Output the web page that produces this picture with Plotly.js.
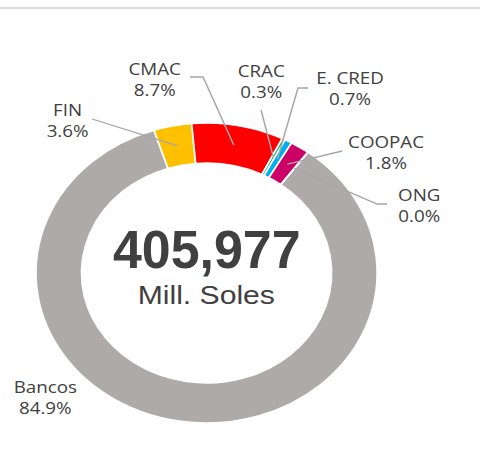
<!DOCTYPE html>
<html>
<head>
<meta charset="utf-8">
<script src="https://cdn.plot.ly/plotly-3.0.1.min.js"></script>
<style>
  body { margin: 0; background: #fff; overflow: hidden; }
  /* the source chart is an Excel donut stretched sideways, so stretch the whole plot */
  #chart { width: 422px; height: 453px; transform: scaleX(1.1374); transform-origin: 0 0; }
</style>
</head>
<body>
<div id="chart"></div>
<script>
var labels = ['Bancos', 'FIN', 'CMAC', 'CRAC', 'E. CRED', 'COOPAC', 'ONG'];
var shares = [84.9, 3.6, 8.7, 0.3, 0.7, 1.8, 0.0];
var totalText = '405,977';
var unitText = 'Mill. Soles';

var colors = ['#AEAAAA', '#FFC000', '#FF0000', '#00B050', '#00B0F0', '#CC0066', '#7030A0'];
// label centres in px, before the stretch
var labelPos = [[40, 397], [59, 120], [136, 79], [229, 81], [308, 88], [339, 152], [368, 205]];
// start (and elbow) of each leader line, in px; the end is the slice middle
var leaderPts = [null, [[81, 119]], [[167, 77], [178.5, 77]], [[229.5, 110]],
                 [[271, 88], [262, 88]], [[300.8, 151]], [[340.4, 204], [331.6, 204]]];

var W = 422, H = 453;
var dom = { x: [0.0749, 0.7858], y: [0.0662, 0.7285] };
var hole = 0.733;
var rotation = 36.4;

function plotDonut(containerId) {
    var cx = (dom.x[0] + dom.x[1]) / 2 * W;
    var cy = (1 - (dom.y[0] + dom.y[1]) / 2) * H;
    var r = Math.min((dom.x[1] - dom.x[0]) * W, (dom.y[1] - dom.y[0]) * H) / 2;
    var rm = r * (1 + hole) / 2;
    var sum = shares.reduce((a, b) => a + b, 0);

    var labelFont = { family: 'Open Sans, sans-serif', size: 16.5, color: '#404040' };
    var toPaper = p => (p[0] / W) + ' ' + (1 - p[1] / H);

    var annotations = [];
    var shapes = [
        { type: 'line', xref: 'paper', yref: 'paper', x0: 0, x1: 1, y0: 1 - 8 / H, y1: 1 - 8 / H,
          line: { color: '#DDDDDD', width: 2 } }
    ];

    var angle = rotation;
    labels.forEach(function (lab, i) {
        var mid = (angle + 180 * shares[i] / sum) * Math.PI / 180;
        angle += 360 * shares[i] / sum;
        var px = cx + rm * Math.sin(mid);
        var py = cy - rm * Math.cos(mid);

        annotations.push({
            text: lab + '<br>' + shares[i].toFixed(1) + '%',
            xref: 'paper', yref: 'paper',
            x: labelPos[i][0] / W, y: 1 - labelPos[i][1] / H,
            xanchor: 'center', yanchor: 'middle',
            showarrow: false, font: labelFont, align: 'center'
        });

        if (leaderPts[i]) {
            var pts = leaderPts[i].concat([[px, py]]);
            shapes.push({
                type: 'path', xref: 'paper', yref: 'paper',
                path: 'M ' + pts.map(toPaper).join(' L '),
                line: { color: '#A6A6A6', width: 1.3 }
            });
        }
    });

    annotations.push({
        text: totalText,
        xref: 'paper', yref: 'paper', x: cx / W, y: 1 - 249 / H,
        xanchor: 'center', yanchor: 'middle', showarrow: false,
        font: { family: 'Liberation Sans, Arial', size: 53, weight: 'bold', color: '#404040' }
    });
    annotations.push({
        text: unitText,
        xref: 'paper', yref: 'paper', x: cx / W, y: 1 - 295 / H,
        xanchor: 'center', yanchor: 'middle', showarrow: false,
        font: { family: 'Liberation Sans, Arial', size: 26.5, color: '#404040' }
    });

    var trace = {
        type: 'pie',
        labels: labels,
        values: shares,
        hole: hole,
        sort: false,
        direction: 'clockwise',
        rotation: rotation,
        domain: dom,
        marker: { colors: colors, line: { color: '#FFFFFF', width: 1.5 } },
        textinfo: 'none',
        hoverinfo: 'skip'
    };

    var layout = {
        width: W,
        height: H,
        margin: { l: 0, r: 0, t: 0, b: 0 },
        showlegend: false,
        paper_bgcolor: '#FFFFFF',
        annotations: annotations,
        shapes: shapes
    };

    Plotly.newPlot(containerId, [trace], layout, { displayModeBar: false }).then(function (gd) {
        // the big number is a condensed face in the original: squeeze it
        var t = gd.querySelector('.annotation[data-index="' + labels.length + '"] .annotation-text');
        if (t) {
            t.setAttribute('textLength', 165);
            t.setAttribute('lengthAdjust', 'spacingAndGlyphs');
        }
    });
}

plotDonut('chart');
</script>
</body>
</html>
